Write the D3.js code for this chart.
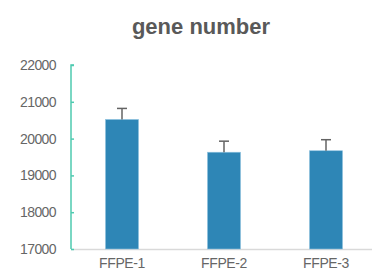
<!DOCTYPE html>
<html><head><meta charset="utf-8">
<script src="https://cdn.jsdelivr.net/npm/d3@7"></script>
<style>body{margin:0;background:#fff;}svg{display:block;}</style>
</head><body>
<script>
const categories = ["FFPE-1", "FFPE-2", "FFPE-3"];
const values = [20520, 19630, 19670];
const errors = [300, 300, 300];
const yTicks = [17000, 18000, 19000, 20000, 21000, 22000];
const title = "gene number";

const W = 373, H = 272;
const svg = d3.select("body").append("svg").attr("width", W).attr("height", H);

const x = d3.scaleBand().domain(categories).range([71, 377]).paddingInner(0.676).paddingOuter(0.338);
const y = d3.scaleLinear().domain([17000, 22000]).range([249, 65]);

svg.append("text").attr("x", 201).attr("y", 34).attr("text-anchor", "middle")
  .style("font-family", "Liberation Sans, Arial, sans-serif").style("font-weight", "bold")
  .style("font-size", "22px").attr("fill", "#595959").text(title);

// baseline
svg.append("line").attr("x1", 71).attr("x2", 372).attr("y1", y(17000)+0.5).attr("y2", y(17000)+0.5)
  .attr("stroke", "#d9d9d9").attr("stroke-width", 1.5);

// bars
svg.selectAll("rect.bar").data(values).join("rect").attr("class", "bar")
  .attr("x", (d, i) => x(categories[i])).attr("width", x.bandwidth())
  .attr("y", d => y(d)).attr("height", d => y(17000) - y(d))
  .attr("fill", "#2e86b6").attr("stroke", "#8fc3e0").attr("stroke-width", 0.6);

// error bars
const eg = svg.append("g").attr("stroke", "#636363").attr("stroke-width", 1.5);
values.forEach((v, i) => {
  const cx = x(categories[i]) + x.bandwidth() / 2;
  eg.append("line").attr("x1", cx).attr("x2", cx).attr("y1", y(v)).attr("y2", y(v + errors[i]));
  eg.append("line").attr("x1", cx - 5).attr("x2", cx + 5).attr("y1", y(v + errors[i])).attr("y2", y(v + errors[i]));
});

// y axis
const yAxis = d3.axisRight(y).tickValues(yTicks).tickSize(3).tickFormat("");
const ya = svg.append("g").attr("transform", "translate(71,0)").call(yAxis);
ya.select(".domain").attr("stroke", "#4fcab0").attr("stroke-width", 1.5).attr("d", `M3,${y(22000)}H0V${y(17000)}`);
ya.selectAll(".tick line").attr("stroke", "#4fcab0").attr("stroke-width", 1.5);

svg.append("g").selectAll("text").data(yTicks).join("text")
  .attr("x", 56).attr("y", d => y(d) + 5).attr("text-anchor", "end")
  .style("font-family", "Liberation Sans, Arial, sans-serif").style("font-size", "14px")
  .style("letter-spacing", "-0.6px")
  .attr("fill", "#666666").text(d => d);

// x labels
const xAxis = d3.axisBottom(x).tickSize(0);
const xa = svg.append("g").attr("transform", `translate(0,${y(17000)})`).call(xAxis);
xa.select(".domain").remove();
xa.selectAll("text").attr("dy", 0).attr("y", 19)
  .style("font-family", "Liberation Sans, Arial, sans-serif").style("font-size", "14px")
  .style("letter-spacing", "-0.4px").attr("fill", "#666666");
</script>
</body></html>
